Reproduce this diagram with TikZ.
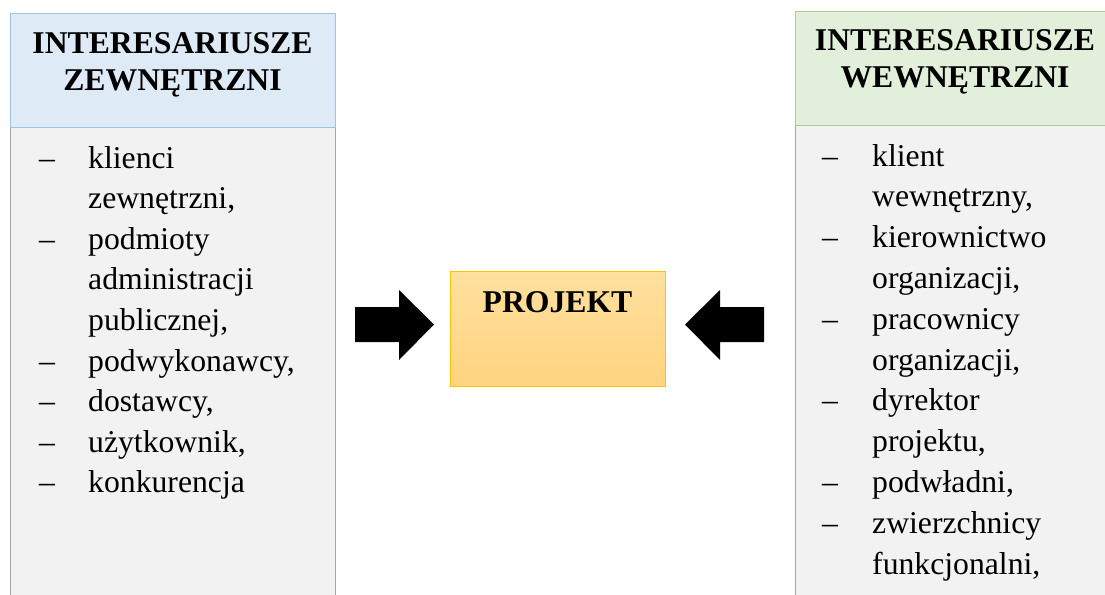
\documentclass[tikz,border=0pt]{standalone}
\usepackage{fontspec}
\setmainfont{Liberation Serif}
\definecolor{extfill}{HTML}{DEEBF7}
\definecolor{extline}{HTML}{9DC3E6}
\definecolor{intfill}{HTML}{E2EFDA}
\definecolor{intline}{HTML}{A9D18E}
\definecolor{bodyfill}{HTML}{F2F2F2}
\definecolor{bodyline}{HTML}{A6A6A6}
\definecolor{projtop}{HTML}{FFE09E}
\definecolor{projbot}{HTML}{FFD47F}
\definecolor{projline}{HTML}{FFC000}
\tikzset{
  txt/.style={font=\fontsize{31.7}{40.6}\selectfont, inner sep=0pt, anchor=base west},
  title/.style={font=\fontsize{31.7}{37}\selectfont\bfseries, inner sep=0pt, anchor=base},
  dashmark/.style={txt},
  blockarrow/.style={fill=black},
}
\begin{document}
\begin{tikzpicture}[x=1pt,y=-1pt]
\useasboundingbox (0,0) rectangle (1105,594);
\begin{scope}
\clip (0,0) rectangle (1105,594);
% outer group: bodies
\fill[bodyfill] (10,127) rectangle (335,600);
\draw[bodyline, line width=1pt] (10,600) -- (10,127) (335,127) -- (335,600);
\fill[bodyfill] (795,125) rectangle (1120,600);
\draw[bodyline, line width=1pt] (795,600) -- (795,125);
% headers
\node[draw=extline, fill=extfill, line width=1pt, minimum width=325pt, minimum height=114pt, inner sep=0pt, anchor=north west] (exthead) at (10,13) {};
\node[draw=intline, fill=intfill, line width=1pt, minimum width=325pt, minimum height=114pt, inner sep=0pt, anchor=north west] (inthead) at (795,11) {};
\end{scope}
\node[title] (ext1) at (172.5,53) {INTERESARIUSZE};
\node[title] (ext2) at (172.5,90) {ZEWNĘTRZNI};
\node[title] (int1) at (955,51) {INTERESARIUSZE};
\node[title] (int2) at (955,88) {WEWNĘTRZNI};

% left list
\foreach \t [count=\i] in {klienci, zewnętrzni{,}, podmioty, administracji, publicznej{,}, podwykonawcy{,}, dostawcy{,}, użytkownik{,}, konkurencja}
  \node[txt] (el\i) at (88,{168+(\i-1)*40.6}) {\t};
\foreach \i in {1,3,6,7,8,9}
  \node[dashmark] (ed\i) at (39,{168+(\i-1)*40.6}) {–};

% right list
\foreach \t [count=\i] in {klient, wewnętrzny{,}, kierownictwo, organizacji{,}, pracownicy, organizacji{,}, dyrektor, projektu{,}, podwładni{,}, zwierzchnicy, funkcjonalni{,}}
  \node[txt] (il\i) at (872,{166+(\i-1)*40.8}) {\t};
\foreach \i in {1,3,5,7,9,10}
  \node[dashmark] (id\i) at (822,{166+(\i-1)*40.8}) {–};

% central box
\node[draw=projline, line width=1pt, top color=projtop, bottom color=projbot, minimum width=215pt, minimum height=115pt, inner sep=0pt, anchor=north west] (proj) at (450,271) {};
\node[title] (projtxt) at (557.5,312) {PROJEKT};

% block arrows pointing at the project
\fill[blockarrow] (355,307) -- (399,307) -- (399,290) -- (434,324.5) -- (399,360) -- (399,342) -- (355,342) -- cycle;
\fill[blockarrow] (764,307) -- (720,307) -- (720,290) -- (685,324.5) -- (720,360) -- (720,342) -- (764,342) -- cycle;
\end{tikzpicture}
\end{document}
